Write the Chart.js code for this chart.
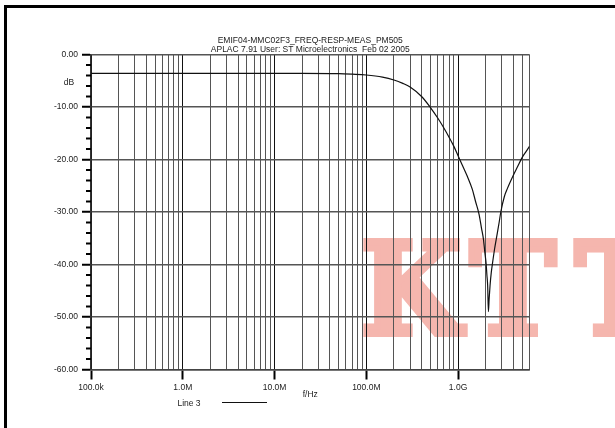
<!DOCTYPE html>
<html>
<head>
<meta charset="utf-8">
<script src="https://cdn.jsdelivr.net/npm/chart.js@4.4.1/dist/chart.umd.min.js"></script>
<style>
  html, body { margin: 0; padding: 0; background: #fff; }
  #chart { display: block; }
</style>
</head>
<body>
<canvas id="chart" width="615" height="428"></canvas>
<script>
const FREQ_HZ = [
  1e5, 2e5, 5e5, 1e6, 2e6, 5e6, 1e7, 2e7, 5e7, 7e7,
  1e8, 1.5e8, 2e8, 2.5e8, 3e8, 4e8, 5e8, 6e8, 7e8, 8e8,
  9e8, 1e9, 1.1e9, 1.26e9, 1.43e9, 1.55e9, 1.69e9, 1.8e9, 1.89e9, 1.96e9,
  2.02e9, 2.06e9, 2.1e9, 2.14e9, 2.18e9, 2.23e9, 2.3e9, 2.37e9, 2.5e9, 2.64e9,
  2.8e9, 2.92e9, 3.2e9, 3.45e9, 4e9, 4.44e9, 5e9, 5.5e9, 6e9
];
const GAIN_DB = [
  -3.6, -3.6, -3.6, -3.6, -3.6, -3.6, -3.6, -3.6, -3.65, -3.75,
  -3.9, -4.3, -4.85, -5.5, -6.2, -8.0, -10.1, -12.1, -14.0, -15.8,
  -17.5, -19.3, -20.9, -23.2, -25.7, -28.0, -30.4, -33.1, -35.2, -37.8,
  -39.8, -42.0, -44.0, -49.0, -46.5, -44.0, -41.5, -39.8, -37.0, -34.6,
  -32.0, -30.0, -27.0, -25.5, -23.0, -21.4, -19.6, -18.5, -17.5
];

const X_MIN = 1e5;
const X_MAX = 6e9;
const X_DECADES = [1e5, 1e6, 1e7, 1e8, 1e9];
const X_DECADE_LABELS = ["100.0k", "1.0M", "10.0M", "100.0M", "1.0G"];
const Y_MIN = -60;
const Y_MAX = 0;
const Y_MAJOR_STEP = 10;
const Y_MINOR_STEP = 2;

const TITLE_LINES = [
  "EMIF04-MMC02F3_FREQ-RESP-MEAS_PM505",
  "APLAC 7.91 User: ST Microelectronics  Feb 02 2005"
];
const Y_UNIT = "dB";
const X_UNIT = "f/Hz";
const SERIES_LABEL = "Line 3";
const WATERMARK = ["K", "T", "T"];
const WATERMARK_X = [361, 470, 575];

const FONT = "'Liberation Sans', Arial, sans-serif";

// grid positions 1..9 per decade, up to X_MAX
function buildXTicks() {
  const out = [];
  X_DECADES.forEach(d => {
    for (let m = 1; m <= 9; m++) {
      const v = d * m;
      if (v <= X_MAX * 1.0001) out.push(v);
    }
  });
  return out;
}

function isDecade(v) {
  return X_DECADES.some(d => Math.abs(v - d) / d < 1e-6);
}

function decadeLabel(v) {
  const i = X_DECADES.findIndex(d => Math.abs(v - d) / d < 1e-6);
  return i >= 0 ? X_DECADE_LABELS[i] : "";
}

const decorPlugin = {
  id: "decor",
  beforeDraw(chart) {
    const { ctx, width, height } = chart;
    ctx.save();
    ctx.fillStyle = "#fff";
    ctx.fillRect(0, 0, width, height);
    // page frame (left + top)
    ctx.fillStyle = "#000";
    ctx.fillRect(4, 5, width - 4, 3);
    ctx.fillRect(4, 5, 3, height - 5);

    // watermark, under the grid; stroked to get the heavy block look
    ctx.font = "bold 128px 'DejaVu Serif Condensed', 'DejaVu Serif', serif";
    ctx.textAlign = "left";
    ctx.textBaseline = "alphabetic";
    ctx.fillStyle = "rgb(245, 182, 174)";
    ctx.strokeStyle = "rgb(245, 182, 174)";
    ctx.lineWidth = 6;
    ctx.lineJoin = "miter";
    WATERMARK.forEach((ch, i) => {
      ctx.fillText(ch, WATERMARK_X[i], 334);
      ctx.strokeText(ch, WATERMARK_X[i], 334);
    });
    ctx.restore();
  },
  afterDraw(chart) {
    const { ctx, chartArea: a } = chart;
    const y = chart.scales.y;
    ctx.save();

    // minor y ticks
    ctx.strokeStyle = "#000";
    ctx.lineWidth = 2;
    for (let v = Y_MIN; v <= Y_MAX; v += Y_MINOR_STEP) {
      if (v % Y_MAJOR_STEP === 0) continue;
      const py = y.getPixelForValue(v);
      ctx.beginPath();
      ctx.moveTo(a.left - 5, py);
      ctx.lineTo(a.left, py);
      ctx.stroke();
    }

    // title
    const cx = (a.left + a.right) / 2;
    ctx.fillStyle = "#222";
    ctx.font = `8.5px ${FONT}`;
    ctx.textAlign = "center";
    ctx.textBaseline = "middle";
    ctx.fillText(TITLE_LINES[0], cx, a.top - 14);
    ctx.fillText(TITLE_LINES[1], cx, a.top - 5);

    // axis units
    ctx.fillText(Y_UNIT, a.left - 22, a.top + 28);
    ctx.fillText(X_UNIT, cx, a.bottom + 25);

    // legend
    ctx.fillText(SERIES_LABEL, 189, a.bottom + 34);
    ctx.strokeStyle = "#111";
    ctx.lineWidth = 1;
    ctx.beginPath();
    ctx.moveTo(222, a.bottom + 33);
    ctx.lineTo(267, a.bottom + 33);
    ctx.stroke();

    ctx.restore();
  }
};

Chart.defaults.font.family = FONT;
Chart.defaults.font.size = 8.5;
Chart.defaults.color = "#222";

new Chart(document.getElementById("chart"), {
  type: "line",
  data: {
    datasets: [{
      label: SERIES_LABEL,
      data: FREQ_HZ.map((f, i) => ({ x: f, y: GAIN_DB[i] })),
      borderColor: "#111",
      borderWidth: 1.2,
      pointRadius: 0,
      fill: false,
      tension: 0.4,
      cubicInterpolationMode: "monotone",
    }],
  },
  options: {
    responsive: false,
    animation: false,
    devicePixelRatio: 1,
    layout: { padding: { left: 0, top: 54.5, right: 85.5, bottom: 28.5 } },
    plugins: {
      legend: { display: false },
      title: { display: false },
      tooltip: { enabled: false },
    },
    scales: {
      x: {
        type: "logarithmic",
        min: X_MIN,
        max: X_MAX,
        afterBuildTicks: s => { s.ticks = buildXTicks().map(v => ({ value: v })); },
        afterFit: s => { s.height = 30; },
        ticks: {
          autoSkip: false,
          maxRotation: 0,
          padding: 3,
          callback: v => decadeLabel(v),
        },
        grid: {
          color: c => isDecade(c.tick.value) ? "#111" : "#555",
          lineWidth: 1,
          tickLength: 10,
          tickColor: c => isDecade(c.tick.value) ? "#000" : "rgba(0,0,0,0)",
          tickWidth: 2,
        },
        border: { color: "#444", width: 1.5 },
      },
      y: {
        type: "linear",
        min: Y_MIN,
        max: Y_MAX,
        afterBuildTicks: s => {
          const t = [];
          for (let v = Y_MIN; v <= Y_MAX; v += Y_MAJOR_STEP) t.push({ value: v });
          s.ticks = t;
        },
        afterFit: s => { s.width = 91; },
        ticks: {
          autoSkip: false,
          padding: 4,
          callback: v => v.toFixed(2),
        },
        grid: {
          color: "#555",
          lineWidth: 1.5,
          tickLength: 9,
          tickColor: "#000",
          tickWidth: 2,
        },
        border: { color: "#333", width: 1.5 },
      },
    },
  },
  plugins: [decorPlugin],
});
</script>
</body>
</html>
